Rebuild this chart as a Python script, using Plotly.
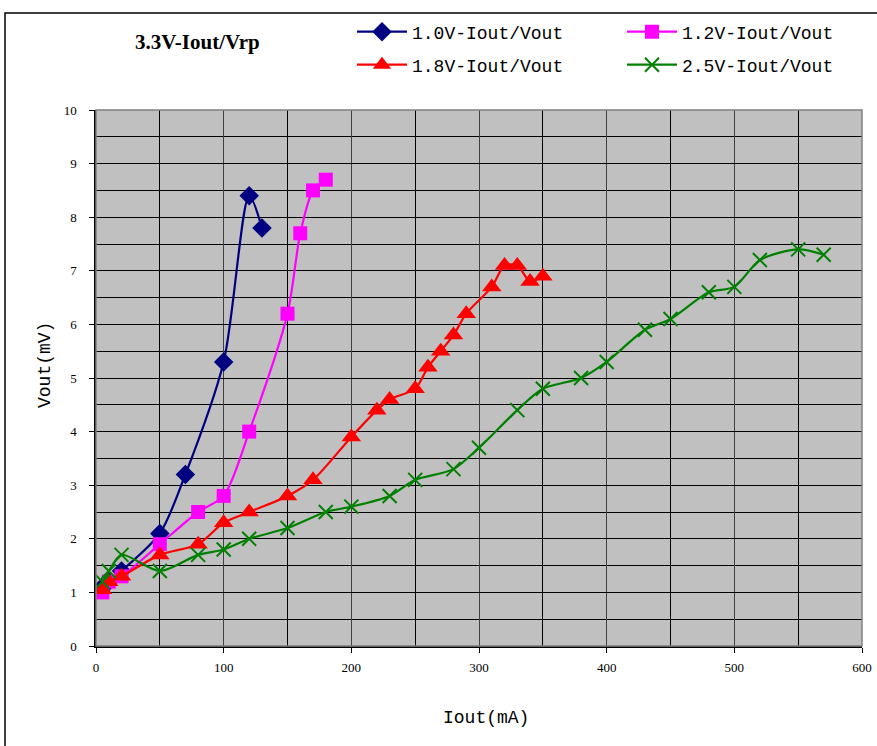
import plotly.graph_objects as go

# ---- data ----
x_10 = [5, 10, 20, 50, 70, 100, 120, 130]
y_10 = [1.1, 1.2, 1.4, 2.1, 3.2, 5.3, 8.4, 7.8]

x_12 = [5, 10, 20, 50, 80, 100, 120, 150, 160, 170, 180]
y_12 = [1.0, 1.2, 1.3, 1.9, 2.5, 2.8, 4.0, 6.2, 7.7, 8.5, 8.7]

x_18 = [5, 10, 20, 50, 80, 100, 120, 150, 170, 200, 220, 230, 250, 260, 270, 280, 290, 310, 320, 330, 340, 350]
y_18 = [1.05, 1.2, 1.3, 1.7, 1.9, 2.3, 2.5, 2.8, 3.1, 3.9, 4.4, 4.6, 4.8, 5.2, 5.5, 5.8, 6.2, 6.7, 7.1, 7.1, 6.8, 6.9]

x_25 = [5, 10, 20, 50, 80, 100, 120, 150, 180, 200, 230, 250, 280, 300, 330, 350, 380, 400, 430, 450, 480, 500, 520, 550, 570]
y_25 = [1.2, 1.4, 1.7, 1.4, 1.7, 1.8, 2.0, 2.2, 2.5, 2.6, 2.8, 3.1, 3.3, 3.7, 4.4, 4.8, 5.0, 5.3, 5.9, 6.1, 6.6, 6.7, 7.2, 7.4, 7.3]

names = ["1.0V-Iout/Vout", "1.2V-Iout/Vout", "1.8V-Iout/Vout", "2.5V-Iout/Vout"]
title_text = "3.3V-Iout/Vrp"
x_title = "Iout(mA)"
y_title = "Vout(mV)"

W, H = 877, 746
L, R, T, B = 96, 15, 110, 100
pw, ph = W - L - R, H - T - B

def px(xp):
    return (xp - L) / pw

def py(yp):
    return (H - B - yp) / ph

fig = go.Figure()
series = [
    (x_10, y_10, names[0], "#000080", "diamond", 15, "legend"),
    (x_12, y_12, names[1], "#FF00FF", "square", 14, "legend"),
    (x_18, y_18, names[2], "#FF0000", "triangle-up", 17, "legend2"),
    (x_25, y_25, names[3], "#008000", "x-thin", 14, "legend2"),
]
for xs, ys, nm, col, sym, sz, lg in series:
    mk = dict(symbol=sym, size=sz, color=col)
    if sym == "x-thin":
        mk["line"] = dict(color=col, width=2)
    fig.add_trace(go.Scatter(
        x=xs, y=ys, name=nm, mode="lines+markers",
        line=dict(color=col, width=2.2, shape="spline", smoothing=0.8),
        marker=mk, legend=lg,
    ))

grid_col = "#000000"
fig.update_xaxes(
    range=[0, 600], dtick=100, tick0=0,
    showgrid=True, gridcolor="#404040", gridwidth=1,
    minor=dict(dtick=50, showgrid=True, gridcolor=grid_col, gridwidth=1),
    ticks="outside", ticklen=5, tickcolor="black", ticklabelstandoff=4,
    showline=True, linecolor="black", linewidth=1.5,
    zeroline=False,
    tickfont=dict(family="Liberation Serif", size=13, color="black"),
)
fig.update_yaxes(
    range=[0, 10], dtick=1, tick0=0,
    showgrid=True, gridcolor=grid_col, gridwidth=1,
    minor=dict(dtick=0.5, showgrid=True, gridcolor=grid_col, gridwidth=1),
    ticks="outside", ticklen=5, tickcolor="black", ticklabelstandoff=10,
    showline=True, linecolor="black", linewidth=1.5,
    zeroline=False,
    tickfont=dict(family="Liberation Serif", size=13, color="black"),
)

legend_font = dict(family="Liberation Mono", size=18, color="black")
axis_title_font = dict(family="Liberation Mono", size=18, color="black")
fig.update_layout(
    width=W, height=H,
    margin=dict(l=L, r=R, t=T, b=B, autoexpand=False),
    paper_bgcolor="white", plot_bgcolor="#C0C0C0",
    showlegend=True,
    legend=dict(orientation="h", x=px(352), y=py(32), xanchor="left", yanchor="middle",
                entrywidth=205, entrywidthmode="pixels", font=legend_font,
                bgcolor="rgba(0,0,0,0)", itemwidth=50, tracegroupgap=0),
    legend2=dict(orientation="h", x=px(352), y=py(65), xanchor="left", yanchor="middle",
                 entrywidth=205, entrywidthmode="pixels", font=legend_font,
                 bgcolor="rgba(0,0,0,0)", itemwidth=50, tracegroupgap=0),
    annotations=[
        dict(text="<b>" + title_text + "</b>", xref="paper", yref="paper",
             x=px(197), y=py(42), xanchor="center", yanchor="middle", showarrow=False,
             font=dict(family="Liberation Serif", size=21, color="black")),
        dict(text=x_title, xref="paper", yref="paper",
             x=px(486), y=py(718), xanchor="center", yanchor="middle", showarrow=False,
             font=axis_title_font),
        dict(text=y_title, xref="paper", yref="paper", textangle=-90,
             x=px(45), y=py(365), xanchor="center", yanchor="middle", showarrow=False,
             font=axis_title_font),
    ],
    shapes=[
        dict(type="rect", xref="paper", yref="paper", x0=0, x1=1, y0=0, y1=1,
             line=dict(color="#808080", width=1.5), layer="above"),
        dict(type="rect", xref="paper", yref="paper", x0=px(5), x1=px(900), y0=py(800), y1=py(13),
             line=dict(color="black", width=1.5)),
    ],
)

fig.write_html("out.html", config={"displayModeBar": False},
               post_script="document.body.style.margin='0';document.body.style.padding='0';")
